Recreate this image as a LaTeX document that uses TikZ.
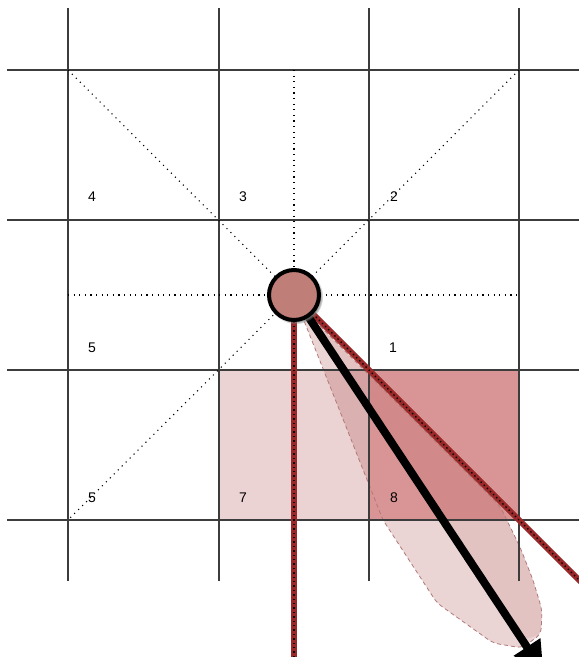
\documentclass[tikz,border=0pt]{standalone}
\usepackage{fontspec}
\setmainfont{Liberation Sans}
\usepackage{xcolor}
\usetikzlibrary{arrows.meta, shadows, calc}
\definecolor{cellpale}{RGB}{235, 211, 211}
\definecolor{celldark}{RGB}{217, 149, 149}
\definecolor{rayred}{RGB}{155, 40, 40}
\definecolor{agentfill}{RGB}{192, 126, 120}
\definecolor{lobeedge}{RGB}{178, 120, 120}
\definecolor{gridgray}{RGB}{60, 60, 60}

\begin{document}
\begin{tikzpicture}[
    x=1pt, y=-1pt,
    gridline/.style={draw=gridgray, line width=1.3pt},
    guide/.style={draw=black, line width=1.1pt, dash pattern=on 1.1pt off 4.5pt},
    cell/.style={fill=#1, draw=none},
    lobe/.style={rounded corners=6pt},
    lobeline/.style={draw=lobeedge, line width=0.8pt, dash pattern=on 4pt off 3pt},
    ray/.style={preaction={draw=rayred, line width=6pt, solid},
                draw=black, line width=1.4pt, dash pattern=on 1.4pt off 3pt},
    heading/.style={-{Triangle[length=30pt, width=30pt]}, line width=8pt, draw=black},
    agent/.style={circle, draw=black, line width=4pt, fill=agentfill,
                  minimum size=50pt, inner sep=0pt, circular drop shadow},
    cellnum/.style={font=\fontsize{14}{14}\selectfont, inner sep=0pt}
]
    \useasboundingbox (0,0) rectangle (579,657);
    \clip (0,0) rectangle (579,657);

    % Corners and ends
    \coordinate (nw) at (68,70);
    \coordinate (ne) at (519,70);
    \coordinate (sw) at (68,520);
    \coordinate (se) at (519,520);
    \coordinate (top) at (294,70);
    \coordinate (left) at (68,295);
    \coordinate (right) at (519,295);
    \coordinate (bottom) at (294,520);
    \coordinate (down) at (294,657);
    \coordinate (slant) at (640,641);
    \coordinate (aim) at (543.5,672);
    \coordinate (mid) at (294,295);

    % Pale cell and spread of the heading
    \fill[cell=cellpale] (219,370) rectangle (369,520);
    \fill[lobe, rayred, fill opacity=0.2] (297,303) -- (383,520) -- (437,603)
        -- (493,643) -- (522,648) -- (541,634) -- (542,610) -- (533,580)
        -- (520,547) -- (500,506) -- cycle;
    \fill[cell=celldark] (369,370) rectangle (519,520);
    \fill[lobe, rayred, fill opacity=0.1] (mid) -- (500,506) -- (520,547)
        -- (533,580) -- (542,610) -- (541,634) -- (523,640) -- cycle;
    \draw[lobe, lobeline] (297,303) -- (383,520) -- (437,603)
        -- (493,643) -- (522,648) -- (541,634) -- (542,610) -- (533,580)
        -- (520,547) -- (500,506) -- cycle;

    % Grid
    \foreach \gx in {68, 219, 369, 519}
        \draw[gridline] (\gx,8) -- (\gx,581);
    \foreach \gy in {70, 220, 370, 520}
        \draw[gridline] (7,\gy) -- (579,\gy);

    % Guide lines through the centre
    \draw[guide] (nw) -- (se);
    \draw[guide] (ne) -- (sw);
    \draw[guide] (top) -- (bottom);
    \draw[guide] (left) -- (right);

    % Rays and heading
    \draw[ray] (mid) -- (down);
    \draw[ray] (mid) -- (slant);
    \draw[heading] (mid) -- (aim);

    % Agent
    \node[agent] (robot) at (mid) {};

    % Cell numbers
    \node[cellnum] (n4) at (92,197) {4};
    \node[cellnum] (n3) at (243,197) {3};
    \node[cellnum] (n2) at (394,197) {2};
    \node[cellnum] (n5a) at (92,348) {5};
    \node[cellnum] (n1) at (393,348) {1};
    \node[cellnum] (n5b) at (92,498) {5};
    \node[cellnum] (n7) at (243,498) {7};
    \node[cellnum] (n8) at (394,498) {8};
\end{tikzpicture}
\end{document}
